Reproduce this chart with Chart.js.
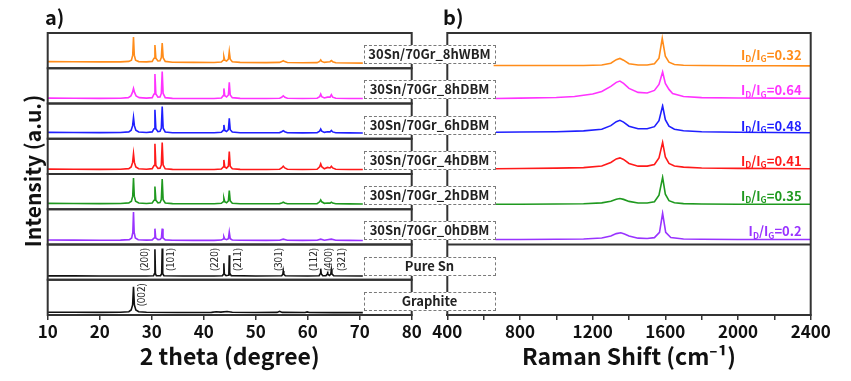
<!DOCTYPE html>
<html><head><meta charset="utf-8">
<script src="https://cdn.jsdelivr.net/npm/chart.js@4.4.1/dist/chart.umd.min.js"></script>
<style>
html,body{margin:0;padding:0;background:#fff;width:851px;height:381px;overflow:hidden;}
#wrap{position:relative;width:851px;height:381px;font-family:'Noto Sans CJK KR','Noto Sans',sans-serif;color:#111;}
#cL{position:absolute;left:0;top:0;}
#cR{position:absolute;left:420px;top:0;}
.box{position:absolute;width:132px;height:19px;border:1.5px dashed #7a7a7a;background:#fff;font-weight:bold;font-size:13px;color:#222;text-align:center;line-height:16px;box-sizing:border-box;white-space:nowrap;}
.plab{position:absolute;font-weight:bold;font-size:20px;line-height:20px;color:#111;}
#ytitle{position:absolute;font-weight:bold;font-size:21px;line-height:22px;color:#111;white-space:nowrap;transform:translate(-50%,-50%) rotate(-90deg);left:32px;top:171px;}
</style></head>
<body><div id="wrap">
<canvas id="cL" width="430" height="381"></canvas>
<canvas id="cR" width="431" height="381"></canvas>
<div id="ytitle">Intensity (a.u.)</div>
<div class="plab" style="left:45px;top:7px;">a)</div>
<div class="plab" style="left:443px;top:7px;">b)</div>
</div>
<script>
// ---------- names, colours, labels ----------
const sampleNames = ['30Sn/70Gr_8hWBM','30Sn/70Gr_8hDBM','30Sn/70Gr_6hDBM','30Sn/70Gr_4hDBM','30Sn/70Gr_2hDBM','30Sn/70Gr_0hDBM','Pure Sn','Graphite'];
const sampleColors = ['#ff8c1a','#ff33ff','#1f1fff','#ff1a1a','#1f991f','#9933ff','#111111','#111111'];
const ramanRatios = ['0.32','0.64','0.48','0.41','0.35','0.2'];
const xrdTicks = [10,20,30,40,50,60,70,80];
const ramanTicks = [400,800,1200,1600,2000,2400];
const snHkl = [['(200)',28.5],['(101)',33.6],['(220)',42.0],['(211)',46.5],['(301)',54.3],['(112)',61.1],['(400)',64.0],['(321)',66.4]];
const grHkl = [['(002)',27.9]];

// ---------- XRD patterns [2theta, intensity a.u.] ----------
const xrd8hWBM = [[10,6.6],[15,6.4],[20,6.3],[24,6.3],[25.6,6.8],[26.1,8],[26.35,13],[26.5,31],[26.65,13],[26.9,8],[27.5,6.6],[29,6.3],[30.1,6.8],[30.45,10],[30.62,23],[30.8,10],[31.2,7.2],[31.6,7.4],[31.85,10.5],[32.02,25],[32.2,10.5],[32.6,6.8],[34,6],[38,5.8],[42,5.7],[43.4,6.2],[43.75,8],[43.88,11.7],[44.05,8],[44.4,7.2],[44.75,9],[44.92,16.7],[45.1,9],[45.5,6.5],[47,5.8],[52,5.6],[54.6,5.8],[55.0,6.6],[55.3,7.5],[55.6,6.6],[56.1,5.7],[59,5.4],[61.8,5.6],[62.3,6.8],[62.5,8.3],[62.7,6.8],[63.2,5.8],[63.8,6.2],[64.3,6.5],[64.55,7.7],[64.8,6.5],[65.4,5.5],[68,5.2],[70.6,5.1]];
const xrd8hDBM = [[10,5.3],[15,5.2],[20,5.1],[24,5.2],[25.5,5.8],[26.0,7.5],[26.3,11],[26.5,15],[26.7,11],[27.0,7.5],[27.6,5.8],[29,5.3],[30.1,5.8],[30.45,9.5],[30.62,29.3],[30.8,9.5],[31.2,6.3],[31.6,6.5],[31.85,10],[32.02,31.7],[32.2,10],[32.6,5.8],[34,5.1],[38,5],[42,5],[43.4,5.5],[43.75,7.8],[43.88,15],[44.05,7.8],[44.4,6.5],[44.75,8.5],[44.92,21],[45.1,8.5],[45.5,5.8],[47,5.1],[52,5],[54.6,5.2],[55.0,6.2],[55.3,7.7],[55.6,6.2],[56.1,5.2],[59,5],[61.8,5.2],[62.3,6.8],[62.5,9.3],[62.7,6.8],[63.2,5.5],[63.8,6.3],[64.3,6.3],[64.55,8.7],[64.8,6.3],[65.4,5.2],[68,5],[70.6,4.9]];
const xrd6hDBM = [[10,6.3],[15,6.2],[20,6.1],[24,6.2],[25.6,6.8],[26.05,8.5],[26.33,13],[26.5,21],[26.67,13],[26.95,8.5],[27.5,6.7],[29,6.2],[30.1,6.8],[30.45,10],[30.62,28.7],[30.8,10],[31.2,7],[31.6,7.3],[31.85,10.5],[32.02,32],[32.2,10.5],[32.6,6.7],[34,6],[38,5.9],[42,5.9],[43.4,6.4],[43.75,8.3],[43.88,13.7],[44.05,8.3],[44.4,7.2],[44.75,9],[44.92,20.3],[45.1,9],[45.5,6.6],[47,6],[52,5.9],[54.6,6.1],[55.0,7],[55.3,8],[55.6,7],[56.1,6],[59,5.8],[61.8,6],[62.3,7.6],[62.5,9.7],[62.7,7.6],[63.2,6.3],[63.8,7],[64.3,6.8],[64.55,8.3],[64.8,6.8],[65.4,5.9],[68,5.8],[70.6,5.7]];
const xrd4hDBM = [[10,4.8],[15,4.7],[20,4.6],[24,4.7],[25.6,5.3],[26.05,7],[26.33,11.5],[26.5,20],[26.67,11.5],[26.95,7],[27.5,5.2],[29,4.7],[30.1,5.3],[30.45,8.5],[30.62,30],[30.8,8.5],[31.2,5.5],[31.6,5.8],[31.85,9],[32.02,31.3],[32.2,9],[32.6,5.2],[34,4.6],[38,4.5],[42,4.5],[43.4,5],[43.75,7],[43.88,14],[44.05,7],[44.4,5.8],[44.75,7.8],[44.92,22.3],[45.1,7.8],[45.5,5.2],[47,4.6],[52,4.5],[54.6,4.7],[55.0,6],[55.3,7.7],[55.6,6],[56.1,4.7],[59,4.5],[61.8,4.7],[62.3,7.2],[62.5,10],[62.7,7.2],[63.2,5.2],[63.8,6.5],[64.3,6],[64.55,7.7],[64.8,6],[65.4,4.7],[68,4.5],[70.6,4.4]];
const xrd2hDBM = [[10,5.8],[15,5.7],[20,5.6],[24,5.7],[25.6,6.3],[26.1,8],[26.35,13],[26.5,31],[26.65,13],[26.9,8],[27.5,6.2],[29,5.7],[30.1,6.2],[30.45,9],[30.62,22.6],[30.8,9],[31.2,6.4],[31.6,6.7],[31.85,9.5],[32.02,30],[32.2,9.5],[32.6,6.2],[34,5.6],[38,5.5],[42,5.5],[43.4,5.9],[43.75,7.5],[43.88,11],[44.05,7.5],[44.4,6.5],[44.75,8.3],[44.92,18.6],[45.1,8.3],[45.5,6],[47,5.5],[52,5.4],[54.6,5.6],[55.0,6.3],[55.3,7],[55.6,6.3],[56.1,5.5],[59,5.4],[61.8,5.6],[62.3,7.4],[62.5,9.3],[62.7,7.4],[63.2,5.9],[63.8,6.2],[64.3,6.1],[64.55,7],[64.8,6.1],[65.4,5.4],[68,5.3],[70.6,5.2]];
const xrd0hDBM = [[10,4.4],[15,4.3],[20,4.2],[24,4.3],[25.7,4.8],[26.15,6.5],[26.37,12],[26.5,32.3],[26.63,12],[26.85,6.5],[27.4,4.7],[29,4.3],[30.1,4.6],[30.47,6.5],[30.62,15.7],[30.77,6.5],[31.2,4.8],[31.6,4.9],[31.87,6.5],[32.02,15.7],[32.17,6.5],[32.6,4.6],[34,4.2],[38,4.1],[42,4.1],[43.4,4.4],[43.75,5.5],[43.88,7.7],[44.05,5.5],[44.4,4.8],[44.75,5.8],[44.92,12.3],[45.1,5.8],[45.5,4.5],[47,4.2],[52,4.1],[54.6,4.2],[55.3,5.3],[56.1,4.2],[59,4.1],[61.8,4.2],[62.5,5.3],[63.2,4.3],[64.55,5.3],[65.4,4.2],[68,4.1],[70.6,4.0]];
const xrdPureSn = [[10,3.8],[15,3.8],[20,3.7],[25,3.7],[29,3.7],[30.35,4],[30.52,6],[30.62,30.3],[30.72,6],[30.9,4],[31.7,4],[31.92,6],[32.02,31],[32.12,6],[32.35,4],[36,3.7],[42,3.7],[43.6,4],[43.8,5.5],[43.88,16.3],[43.97,5.5],[44.3,4.1],[44.7,4.4],[44.84,6.5],[44.92,24.3],[45.0,6.5],[45.3,4.1],[50,3.7],[55.0,4],[55.22,5.5],[55.3,8.7],[55.4,5.5],[55.7,3.9],[60,3.7],[62.2,4],[62.42,6],[62.5,11],[62.6,6],[62.9,4],[63.5,4],[63.72,5.5],[63.8,8.3],[63.9,5.5],[64.2,4.3],[64.45,5.8],[64.55,10],[64.65,5.8],[65,3.9],[70.6,3.7]];
const xrdGraphite = [[10,2.7],[15,2.7],[20,2.6],[24,2.7],[25.6,3.3],[26.05,5],[26.33,10],[26.5,28],[26.67,10],[26.95,5],[27.5,3.2],[29,2.7],[35,2.5],[41.5,2.6],[42.4,3.2],[43.3,2.9],[44.5,3.5],[45.5,2.8],[50,2.5],[54.1,2.6],[54.6,3.7],[55.1,2.6],[59.5,2.5],[59.9,3.1],[60.3,2.5],[65,2.4],[70.6,2.4]];

// ---------- Raman spectra [shift cm-1, intensity a.u.] ----------
const ram8hWBM = [[655,2.8],[800,2.7],[1000,2.7],[1150,2.8],[1250,3.2],[1300,5],[1330,8.5],[1350,9.7],[1370,8],[1400,4.5],[1450,3.2],[1500,3.3],[1540,4.5],[1565,10],[1583,29.7],[1600,12],[1620,6],[1650,3.8],[1700,3],[1800,2.7],[2000,2.5],[2200,2.5],[2400,2.4]];
const ram8hDBM = [[665,5],[800,5.3],[1000,6],[1100,7],[1200,9.5],[1250,12],[1300,17],[1330,21],[1350,22.3],[1370,20],[1400,15],[1450,11],[1500,10.5],[1540,13],[1565,19],[1585,31.3],[1600,20],[1620,14],[1640,10],[1700,7],[1800,5.8],[2000,5.4],[2200,5.3],[2400,5.2]];
const ram6hDBM = [[665,6.5],[800,6.7],[1000,7],[1150,7.8],[1250,9.5],[1300,13],[1330,17],[1350,18.3],[1370,16.5],[1400,12.5],[1450,10],[1500,10],[1540,12],[1565,18],[1585,32.7],[1600,19],[1620,12.5],[1650,9.5],[1700,8],[1800,7],[2000,6.5],[2200,6.2],[2400,6]];
const ram4hDBM = [[665,5.2],[800,5.5],[1000,5.8],[1150,6.3],[1250,8],[1300,11.5],[1330,15],[1350,16],[1370,14.5],[1400,10.5],[1450,7.8],[1500,7.8],[1540,9.5],[1565,16],[1585,31.5],[1600,17],[1620,10.5],[1650,8],[1700,6.8],[1800,6],[2000,5.6],[2200,5.4],[2400,5.2]];
const ram2hDBM = [[665,5],[800,5],[1000,5.2],[1150,5.5],[1250,6.3],[1300,8],[1330,10],[1350,10.7],[1370,9.8],[1400,7.8],[1450,6.2],[1500,6.2],[1540,7.5],[1565,14],[1585,31.7],[1600,15],[1620,8.5],[1650,6.5],[1700,5.6],[1800,5.2],[2000,5],[2200,5],[2400,5]];
const ram0hDBM = [[665,5],[800,5],[1000,5.2],[1150,5.5],[1250,6.5],[1300,8.5],[1330,10.8],[1355,11.7],[1375,10.5],[1400,8.5],[1450,6.3],[1500,6],[1540,6.8],[1568,12],[1585,31],[1602,12],[1630,7],[1700,5.5],[1800,5.2],[2000,5],[2200,5],[2400,4.9]];

const xrdData = [xrd8hWBM,xrd8hDBM,xrd6hDBM,xrd4hDBM,xrd2hDBM,xrd0hDBM,xrdPureSn,xrdGraphite];
const ramanData = [ram8hWBM,ram8hDBM,ram6hDBM,ram4hDBM,ram2hDBM,ram0hDBM];

// ---------- helpers ----------
const FONT = "'Noto Sans CJK KR','Noto Sans',sans-serif";
const FRAME = '#333333';
function rowAxes(){
  // stacked scales are laid out bottom-up, so define the last row first
  const o = {};
  for (let i = sampleNames.length - 1; i >= 0; i--) {
    o['r'+i] = {type:'linear',min:0,max:35,stack:'rows',stackWeight:1,position:'left',display:true,
      ticks:{display:false},grid:{display:false},border:{display:false},
      afterFit:s=>{s.width=0;}};
  }
  return o;
}
function xAxis(min,max,step,title,showTick){
  return {type:'linear',position:'bottom',min:min,max:max,
    afterFit:s=>{s.height=66;},
    ticks:{stepSize:step,color:'#111',font:{family:FONT,size:17,weight:'bold'},padding:1,maxRotation:0,autoSkip:false,
      callback:v=>showTick(v)?String(v):''},
    grid:{drawOnChartArea:false,drawTicks:true,tickLength:5,color:FRAME,lineWidth:1.5},
    border:{display:true,color:FRAME,width:2},
    title:{display:true,text:title,color:'#111',font:{family:FONT,size:23,weight:'bold'},padding:{top:0,bottom:11}}};
}
function lineDs(data,i){
  return {data:data,yAxisID:'r'+i,borderColor:sampleColors[i],borderWidth:1.6,pointRadius:0,tension:0,fill:false};
}

const leftPlugin = {
  id:'leftFrames',
  afterDatasetsDraw(chart){
    const ctx=chart.ctx, a=chart.chartArea, xs=chart.scales.x;
    ctx.save();
    ctx.strokeStyle=FRAME; ctx.lineWidth=2;
    sampleNames.forEach((n,i)=>{const s=chart.scales['r'+i]; ctx.strokeRect(a.left,s.top,a.right-a.left,s.bottom-s.top);});
    ctx.fillStyle='#222'; ctx.font="10px "+FONT; ctx.textAlign='center'; ctx.textBaseline='middle';
    const drawHkl=(list,row)=>{const ys=chart.scales['r'+row]; list.forEach(h=>{
      ctx.save(); ctx.translate(xs.getPixelForValue(h[1]), ys.getPixelForValue(20)); ctx.rotate(-Math.PI/2); ctx.fillText(h[0],0,0); ctx.restore();});};
    drawHkl(snHkl,6); drawHkl(grHkl,7);
    ctx.restore();
  }
};
const rightPlugin = {
  id:'rightFrames',
  afterDatasetsDraw(chart){
    const ctx=chart.ctx, a=chart.chartArea, xs=chart.scales.x;
    const top=chart.scales.r0, last=chart.scales.r5, bot=chart.scales.r7;
    ctx.save();
    ctx.strokeStyle=FRAME; ctx.lineWidth=2;
    ctx.strokeRect(a.left,top.top,a.right-a.left,bot.bottom-top.top);
    ctx.beginPath(); ctx.moveTo(a.left,last.bottom); ctx.lineTo(a.right,last.bottom); ctx.stroke();
    ctx.textBaseline='middle';
    ramanRatios.forEach((r,i)=>{
      const ys=chart.scales['r'+i];
      const y=ys.getPixelForValue(13);
      const parts=[['I',0],['D',1],['/I',0],['G',1],['='+r,0]];
      const fm="bold 13px "+FONT, fs="bold 8.5px "+FONT;
      let w=0; parts.forEach(p=>{ctx.font=p[1]?fs:fm; w+=ctx.measureText(p[0]).width;});
      let x=xs.getPixelForValue(2350)-w;
      ctx.fillStyle=sampleColors[i]; ctx.textAlign='left';
      parts.forEach(p=>{ctx.font=p[1]?fs:fm; ctx.fillText(p[0],x,p[1]?y+4:y); x+=ctx.measureText(p[0]).width;});
    });
    ctx.restore();
  }
};

const chartL = new Chart(document.getElementById('cL'),{
  type:'line',
  data:{datasets:xrdData.map((d,i)=>lineDs(d,i))},
  options:{responsive:false,animation:false,events:[],
    layout:{padding:{left:47.7,right:18.3,top:33,bottom:0}},
    plugins:{legend:{display:false},tooltip:{enabled:false}},
    scales:Object.assign({x:xAxis(10,80,10,'2 theta (degree)',v=>xrdTicks.includes(v))},rowAxes())},
  plugins:[leftPlugin]
});
const chartR = new Chart(document.getElementById('cR'),{
  type:'line',
  data:{datasets:ramanData.map((d,i)=>lineDs(d,i))},
  options:{responsive:false,animation:false,events:[],
    layout:{padding:{left:27.3,right:40.3,top:33,bottom:0}},
    plugins:{legend:{display:false},tooltip:{enabled:false}},
    scales:Object.assign({x:xAxis(400,2400,200,'Raman Shift (cm\u207B\u00B9)',v=>ramanTicks.includes(v))},rowAxes())},
  plugins:[rightPlugin]
});

// dashed sample boxes between the panels, aligned to the rows
const wrap=document.getElementById('wrap');
const midX=(chartL.chartArea.right + 420 + chartR.chartArea.left)/2;
sampleNames.forEach((n,i)=>{
  const s=chartL.scales['r'+i];
  const d=document.createElement('div'); d.className='box'; d.textContent=n;
  d.style.left=(midX-66)+'px'; d.style.top=((s.top+s.bottom)/2+4-9.5)+'px';
  wrap.appendChild(d);
});
</script></body></html>
